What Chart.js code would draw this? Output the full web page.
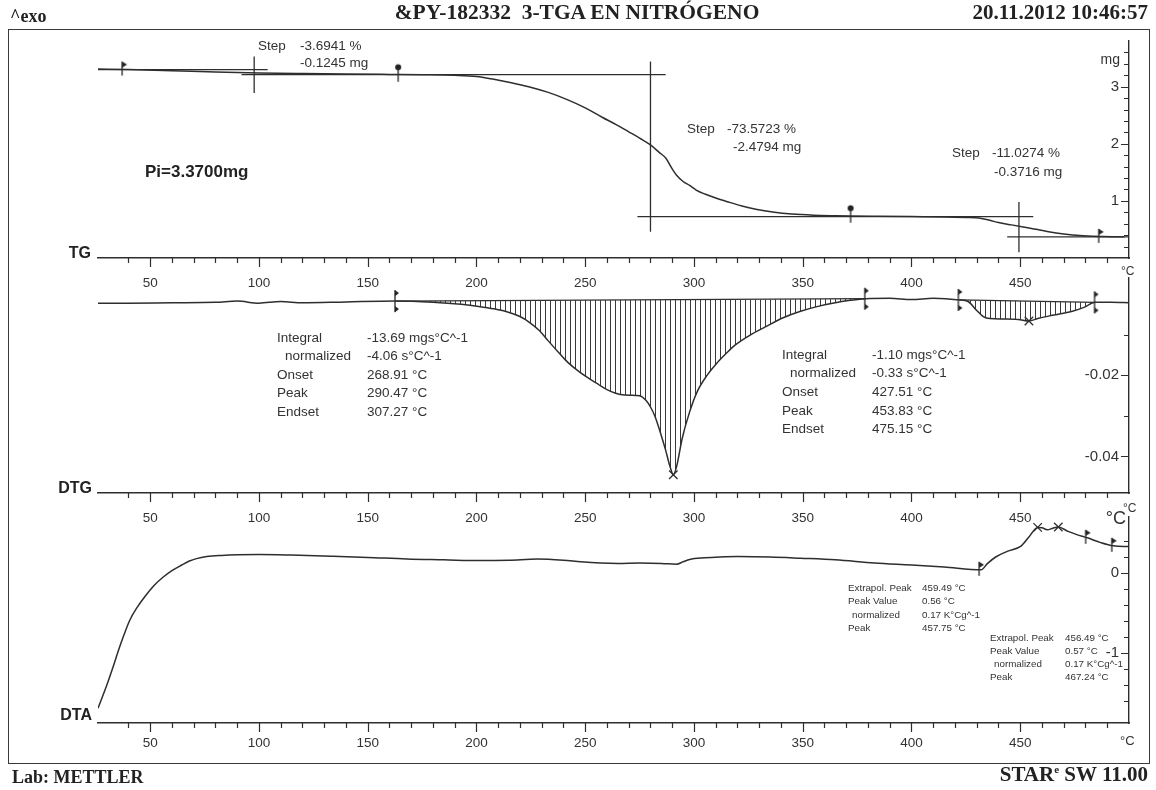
<!DOCTYPE html>
<html><head><meta charset="utf-8">
<script src="https://cdn.jsdelivr.net/npm/chart.js@4.4.1/dist/chart.umd.min.js"></script>
<style>
html,body{margin:0;padding:0;background:#fff;}
#wrap{position:relative;width:1156px;height:790px;overflow:hidden;background:#fff;font-family:"Liberation Sans",Arial,sans-serif;color:#333;}
canvas{position:absolute;left:0;top:0;}
.t{position:absolute;white-space:nowrap;line-height:1;}
.serif{font-family:"Liberation Serif","Times New Roman",serif;font-weight:bold;color:#222;}
.b{font-weight:bold;color:#222;}
#frame{position:absolute;left:8px;top:29px;width:1140px;height:733px;border:1.5px solid #3a3a3a;}
</style></head>
<body><div id="wrap"><div id="frame"></div>
<canvas id="cTG" width="1156" height="300"></canvas>
<canvas id="cDTG" width="1156" height="545"></canvas>
<canvas id="cDTA" width="1156" height="790"></canvas>
</div>
<script>
// ---------------- DATA ----------------
const tgTemp = [26,40,60,80,100,120,140,160,175,190,200,208,216,224,233,242,250,258,264,270,275,280,284,287,290,292,295,298,301,305,310,315,322,329,337,345,355,365,372,385,400,415,425,431,436,440,446,452,458,463,470,479,488,498];
const tgMass = [3.31,3.30,3.28,3.255,3.24,3.23,3.222,3.215,3.21,3.20,3.18,3.13,3.07,3.00,2.90,2.77,2.63,2.46,2.34,2.21,2.10,1.98,1.85,1.75,1.56,1.45,1.34,1.27,1.19,1.12,1.05,0.99,0.91,0.85,0.80,0.77,0.75,0.74,0.735,0.73,0.725,0.72,0.71,0.70,0.66,0.62,0.58,0.54,0.50,0.46,0.42,0.39,0.375,0.37];

const tgTangentA = [[25,3.30],[104,3.30]];
const tgTangentB = [[92,3.21],[287,3.21]];
const tgTangentC = [[274,0.725],[456,0.725]];
const tgTangentD = [[444,0.37],[500,0.37]];
const tgStepLine1 = [[97.8,2.89],[97.8,3.53]];
const tgStepLine2 = [[280,0.46],[280,3.44]];
const tgStepLine3 = [[449.4,0.10],[449.4,0.98]];
const tgFlags = [[38,3.30],[487,0.37]];
const tgPins = [[164,3.21],[372,0.74]];

const dtgTemp = [26,40,60,80,90,100,110,120,140,163,180,193,201,208,215,220,224,229,233,238,242,247,251,256,260,264,267,271,275,278,280,282,284.5,287,289,290.5,292,294.6,298,301.5,306,310.5,315,319,326,333,341,349,357,365,372,379,390,400,410,422,426,430,433,436,442,449,454,458,463,468,474,479,484.6,492,500];
const dtgRate = [-0.0022,-0.0022,-0.0021,-0.0020,-0.0017,-0.0022,-0.0018,-0.0021,-0.0019,-0.0017,-0.0020,-0.0025,-0.0030,-0.0036,-0.0045,-0.0055,-0.0068,-0.0090,-0.0115,-0.0145,-0.0168,-0.0190,-0.0205,-0.0222,-0.0235,-0.0244,-0.0248,-0.0249,-0.0250,-0.0262,-0.0278,-0.0300,-0.0340,-0.0385,-0.0425,-0.0445,-0.0425,-0.0355,-0.0290,-0.0240,-0.0200,-0.0170,-0.0145,-0.0125,-0.0100,-0.0080,-0.0058,-0.0042,-0.0030,-0.0021,-0.0015,-0.0011,-0.0010,-0.0013,-0.0010,-0.0014,-0.0018,-0.0040,-0.0055,-0.0060,-0.0061,-0.0062,-0.0066,-0.0060,-0.0054,-0.0049,-0.0042,-0.0033,-0.0020,-0.0020,-0.0021];
const dtgBase1 = [[163,-0.0017],[379,-0.0011]];
const dtgBase2 = [[422,-0.0014],[484.6,-0.0020]];
const dtgBrackets = [[163,-0.0017],[379,-0.0011],[422,-0.0014],[484.6,-0.0020]];
const dtgPeaks = [[290.5,-0.0445],[454,-0.0066]];

const dtaTemp = [26,28,30.4,33,35.5,38,40.6,44,47.4,52,56,60,64.5,68,71.3,76,83,90,100,115,134,150,168,185,202,215,228,240,248,257,265,275,285,292,295,298,305,312,320,335,349,365,383,400,415,432,435,438.7,444,450.5,454,458,460,462.5,465,467.5,472,476,480.8,487,492.8,500];
const dtaSignal = [-1.69,-1.55,-1.375,-1.17,-0.96,-0.77,-0.59,-0.43,-0.30,-0.15,-0.05,0.03,0.10,0.15,0.18,0.205,0.22,0.228,0.232,0.225,0.21,0.195,0.175,0.165,0.155,0.16,0.175,0.16,0.14,0.125,0.12,0.125,0.12,0.11,0.14,0.17,0.19,0.20,0.205,0.20,0.185,0.165,0.125,0.10,0.075,0.04,0.12,0.20,0.27,0.34,0.45,0.57,0.565,0.54,0.56,0.575,0.52,0.48,0.44,0.38,0.34,0.33];
const dtaFlags = [[432,0.04],[481,0.44],[493,0.34]];
const dtaPeaks = [[458,0.57],[467.5,0.575]];

const tempLabels = [50,100,150,200,250,300,350,400,450];
const tgLabels = [1,2,3];
const dtgLabels = [-0.02,-0.04];
const dtaLabels = [0,-1];

// ---------------- HELPERS ----------------
const F = '"Liberation Sans", Arial, sans-serif';
const INK = '#2e2e2e';
const xy = (xs, ys) => xs.map((x,i)=>({x, y: ys[i]}));
const pts = arr => arr.map(p=>({x:p[0], y:p[1]}));

function mk(w,h,draw){const c=document.createElement('canvas');c.width=w;c.height=h;const g=c.getContext('2d');g.fillStyle='#222';g.strokeStyle='#222';g.lineWidth=1.3;draw(g);return c;}
const pinImg = mk(8,24,g=>{g.beginPath();g.moveTo(4,5);g.lineTo(4,19);g.stroke();g.beginPath();g.arc(4,4.5,3,0,Math.PI*2);g.fill();});
const flagImg = mk(10,22,g=>{g.beginPath();g.moveTo(3,3);g.lineTo(3,17);g.stroke();g.beginPath();g.moveTo(3,3);g.lineTo(8,6);g.lineTo(3,9);g.closePath();g.fill();});
const bracketImg = mk(10,24,g=>{g.beginPath();g.moveTo(4,1);g.lineTo(4,23);g.stroke();g.beginPath();g.moveTo(4,1);g.lineTo(8,4);g.lineTo(4,7);g.closePath();g.fill();g.beginPath();g.moveTo(4,17);g.lineTo(8,20);g.lineTo(4,23);g.closePath();g.fill();});

function line(data, w){return {data, borderColor:INK, borderWidth:w||1.5, pointRadius:0, fill:false, cubicInterpolationMode:'monotone'};}
function straight(data){return {data, borderColor:INK, borderWidth:1.3, pointRadius:0, fill:false, tension:0};}
function marks(data, img){return {data, showLine:false, pointStyle:img, pointRadius:5, borderColor:INK, backgroundColor:INK};}
function cross(data){return {data, showLine:false, pointStyle:'crossRot', pointRadius:6, borderWidth:1.3, borderColor:INK};}

const tickPlugin = {
  id:'ticks',
  afterDraw(chart){
    const ctx=chart.ctx, xs=chart.scales.x, ys=chart.scales.y;
    ctx.save(); ctx.strokeStyle=INK; ctx.lineWidth=1.2; ctx.beginPath();
    xs.ticks.forEach(t=>{
      if (t.value % 10 !== 0 || t.value <= xs.min || t.value >= xs.max) return;
      const px=Math.round(xs.getPixelForValue(t.value))+0.5;
      const len = t.value % 50 === 0 ? 9 : 5;
      ctx.moveTo(px, xs.top); ctx.lineTo(px, xs.top+len);
    });
    ys.ticks.forEach(t=>{
      if (t.value <= ys.min || t.value >= ys.max) return;
      const py=Math.round(ys.getPixelForValue(t.value))+0.5;
      const len = (t.label && t.label!=='' && !isNaN(parseFloat(t.label))) ? 8 : 5;
      ctx.moveTo(ys.left, py); ctx.lineTo(ys.left-len, py);
    });
    ctx.stroke(); ctx.restore();
  }
};

function xScale(bottomGap, pad){
  return {type:'linear', min:26, max:500,
    afterFit:s=>{s.height=bottomGap;},
    border:{display:true,color:INK,width:1.4},
    grid:{drawOnChartArea:false,drawTicks:true,tickLength:8,color:'rgba(0,0,0,0)'},
    ticks:{stepSize:10,autoSkip:false,maxRotation:0,padding:pad,color:'#333',font:{family:F,size:13.5},
      callback:v=>tempLabels.includes(Math.round(v))&&Math.abs(v-Math.round(v))<1e-9?String(Math.round(v)):''}};
}
function yScale(min,max,step,labels,unitAt,unit,pad){
  return {type:'linear', position:'right', min, max,
    afterFit:s=>{s.width=27;},
    border:{display:true,color:INK,width:1.4},
    grid:{drawOnChartArea:false,drawTicks:false,color:'rgba(0,0,0,0)'},
    ticks:{stepSize:step,autoSkip:false,mirror:true,padding:pad,color:'#333',font:{family:F,size:15},
      callback:v=>{const r=Math.round(v*10000)/10000; if(labels.includes(r)) return String(r); if(unit && r===unitAt) return unit; return '';}}};
}
function baseOpts(padTop, x, y){
  return {responsive:false, animation:false, devicePixelRatio:1, maintainAspectRatio:false,
    layout:{padding:{top:padTop,left:98,right:0,bottom:0}},
    plugins:{legend:{display:false},tooltip:{enabled:false}},
    scales:{x, y}};
}

// ---------------- TG ----------------
new Chart(document.getElementById('cTG'), {
  type:'line',
  data:{datasets:[
    line(xy(tgTemp,tgMass)),
    straight(pts(tgTangentA)), straight(pts(tgTangentB)), straight(pts(tgTangentC)), straight(pts(tgTangentD)),
    straight(pts(tgStepLine1)), straight(pts(tgStepLine2)), straight(pts(tgStepLine3)),
    marks(pts(tgFlags), flagImg), marks(pts(tgPins), pinImg)
  ]},
  options:baseOpts(41, xScale(42,9), yScale(0,3.8,0.2,tgLabels,null,null,-10)),
  plugins:[tickPlugin]
});

// ---------------- DTG ----------------
const dtgPts = xy(dtgTemp,dtgRate);
const hctx = document.getElementById('cDTG').getContext('2d');
const hc = document.createElement('canvas'); hc.width=5; hc.height=4;
const hg = hc.getContext('2d'); hg.fillStyle='#3a3a3a'; hg.fillRect(0,0,1,4);
const hatch = hctx.createPattern(hc,'repeat');
const region = (a,b)=>dtgPts.filter(p=>p.x>=a && p.x<=b);
new Chart(document.getElementById('cDTG'), {
  type:'line',
  data:{datasets:[
    line(dtgPts),
    {data:region(dtgBase1[0][0],dtgBase1[1][0]), borderWidth:0, pointRadius:0, fill:'+1', backgroundColor:hatch, cubicInterpolationMode:'monotone'},
    straight(pts(dtgBase1)),
    {data:region(dtgBase2[0][0],dtgBase2[1][0]), borderWidth:0, pointRadius:0, fill:'+1', backgroundColor:hatch, cubicInterpolationMode:'monotone'},
    straight(pts(dtgBase2)),
    marks(pts(dtgBrackets), bracketImg), cross(pts(dtgPeaks))
  ]},
  options:baseOpts(278, xScale(52,9), yScale(-0.049,0.004,0.01,dtgLabels,0,'mg°C^-1',-10)),
  plugins:[tickPlugin]
});

// ---------------- DTA ----------------
new Chart(document.getElementById('cDTA'), {
  type:'line',
  data:{datasets:[
    line(xy(dtaTemp,dtaSignal)),
    marks(pts(dtaFlags), flagImg), cross(pts(dtaPeaks))
  ]},
  options:baseOpts(517, xScale(67,4), yScale(-1.875,0.7,0.2,dtaLabels,null,null,-10)),
  plugins:[tickPlugin]
});

// ---------------- TEXT ----------------
const wrap=document.getElementById('wrap');
function T(html,x,cy,size,cls,align){
  const d=document.createElement('div'); d.className='t '+(cls||''); d.innerHTML=html;
  d.style.fontSize=size+'px'; d.style.top=(cy-size*0.55)+'px';
  if(align==='r'){d.style.right=(1156-x)+'px';} else if(align==='c'){d.style.left=x+'px';d.style.transform='translateX(-50%)';} else d.style.left=x+'px';
  wrap.appendChild(d);
}
T('^exo',10,17,18,'serif');
T('&amp;PY-182332&nbsp; 3-TGA EN NITRÓGENO',577,14,21.5,'serif','c');
T('20.11.2012 10:46:57',1148,14,21,'serif','r');
T('Lab: METTLER',12,778,18,'serif');
T('STAR<sup style="font-size:11px">e</sup> SW 11.00',1148,776,21,'serif','r');

T('TG',91,254,16,'b','r');
T('DTG',92,489,16,'b','r');
T('DTA',92,716,16,'b','r');

T('mg',1120,60,14,'','r');
T('°C',1121,272,12,'');
T('°C',1123,509,12,'');
T('°C',1126,519,18,'','r');
T('°C',1120,741,13,'');

T('Step',258,46,13.5); T('-3.6941 %',300,46,13.5); T('-0.1245 mg',300,63,13.5);
T('Step',687,129,13.5); T('-73.5723 %',727,129,13.5); T('-2.4794 mg',733,147,13.5);
T('Step',952,153,13.5); T('-11.0274 %',992,153,13.5); T('-0.3716 mg',994,172,13.5);
T('Pi=3.3700mg',145,172,17,'b');

const blk1=[['Integral','-13.69 mgs°C^-1',0],['normalized','-4.06 s°C^-1',8],['Onset','268.91 °C',0],['Peak','290.47 °C',0],['Endset','307.27 °C',0]];
blk1.forEach((r,i)=>{T(r[0],277+r[2],338+i*18.5,13.5);T(r[1],367,338+i*18.5,13.5);});
const blk2=[['Integral','-1.10 mgs°C^-1',0],['normalized','-0.33 s°C^-1',8],['Onset','427.51 °C',0],['Peak','453.83 °C',0],['Endset','475.15 °C',0]];
blk2.forEach((r,i)=>{T(r[0],782+r[2],355+i*18.7,13.5);T(r[1],872,355+i*18.7,13.5);});

const blk3=[['Extrapol. Peak','459.49 °C',0],['Peak Value','0.56 °C',0],['normalized','0.17 K°Cg^-1',4],['Peak','457.75 °C',0]];
blk3.forEach((r,i)=>{T(r[0],848+r[2],588+i*13.5,9.8);T(r[1],922,588+i*13.5,9.8);});
const blk4=[['Extrapol. Peak','456.49 °C',0],['Peak Value','0.57 °C',0],['normalized','0.17 K°Cg^-1',4],['Peak','467.24 °C',0]];
blk4.forEach((r,i)=>{T(r[0],990+r[2],638+i*13.2,9.8);T(r[1],1065,638+i*13.2,9.8);});
</script></body></html>
